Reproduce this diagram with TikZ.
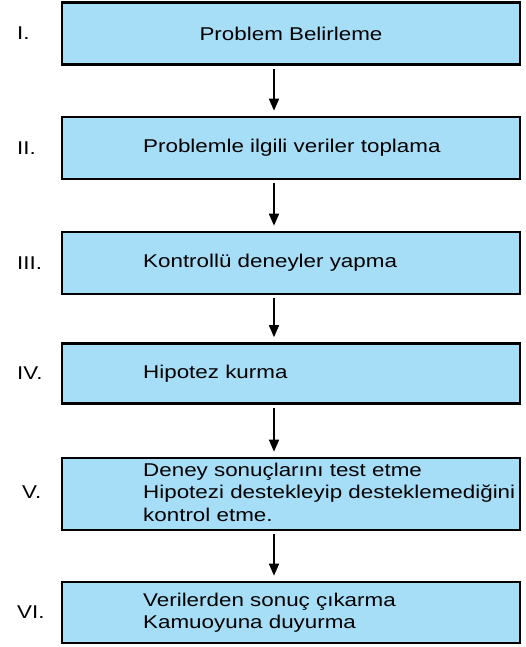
\documentclass[tikz,border=0pt]{standalone}
\usepackage{fontspec}
\setmainfont[FakeStretch=1.21]{Liberation Sans}
\usetikzlibrary{arrows.meta,calc}
\definecolor{boxblue}{RGB}{166,222,248}
\begin{document}
\begin{tikzpicture}[x=1pt,y=-1pt,
  stepbox/.style={draw=black,line width=2.6pt,fill=boxblue,minimum width=458pt,inner sep=0pt},
  txt/.style={font=\fontsize{18.5}{22.5}\selectfont,inner sep=0pt,align=left},
  lbl/.style={font=\fontsize{18.5}{22.5}\selectfont,inner sep=0pt,anchor=west},
  arr/.style={line width=1.6pt,-{Triangle[length=12pt,width=10pt]}}]
\useasboundingbox (0,0) rectangle (526,647);
\node[stepbox,minimum height=62pt] (b1) at (291,33.5) {};
\node[stepbox,minimum height=62pt] (b2) at (291,148) {};
\node[stepbox,minimum height=62pt] (b3) at (291,263) {};
\node[stepbox,minimum height=60pt] (b4) at (291,373.5) {};
\node[stepbox,minimum height=72pt] (b5) at (291,494) {};
\node[stepbox,minimum height=61pt] (b6) at (291,612.5) {};
\node[txt] (t1) at (291,33.5) {Problem Belirleme};
\node[txt,anchor=west] (t2) at (143,148) {Problemle ilgili veriler toplama};
\node[txt,anchor=west] (t3) at (143,263) {Kontrollü deneyler yapma};
\node[txt,anchor=west] (t4) at (143,373.5) {Hipotez kurma};
\node[txt,anchor=west] (t5) at (143,492) {Deney sonuçlarını test etme\\Hipotezi destekleyip desteklemediğini\\kontrol etme.};
\node[txt,anchor=west] (t6) at (143,612.5) {Verilerden sonuç çıkarma\\Kamuoyuna duyurma};
\node[lbl] (l1) at (17,33.5) {I.};
\node[lbl] (l2) at (17,148) {II.};
\node[lbl] (l3) at (17,263) {III.};
\node[lbl] (l4) at (17,373.5) {IV.};
\node[lbl] (l5) at (22,492) {V.};
\node[lbl] (l6) at (17,612.5) {VI.};
\coordinate (ax) at (274,0);
\draw[arr] ([yshift=-3pt]b1.south -| ax) -- ([yshift=5pt]b2.north -| ax);
\draw[arr] ([yshift=-3pt]b2.south -| ax) -- ([yshift=5pt]b3.north -| ax);
\draw[arr] ([yshift=-3pt]b3.south -| ax) -- ([yshift=5pt]b4.north -| ax);
\draw[arr] ([yshift=-3pt]b4.south -| ax) -- ([yshift=5pt]b5.north -| ax);
\draw[arr] ([yshift=-3pt]b5.south -| ax) -- ([yshift=5pt]b6.north -| ax);
\end{tikzpicture}
\end{document}
